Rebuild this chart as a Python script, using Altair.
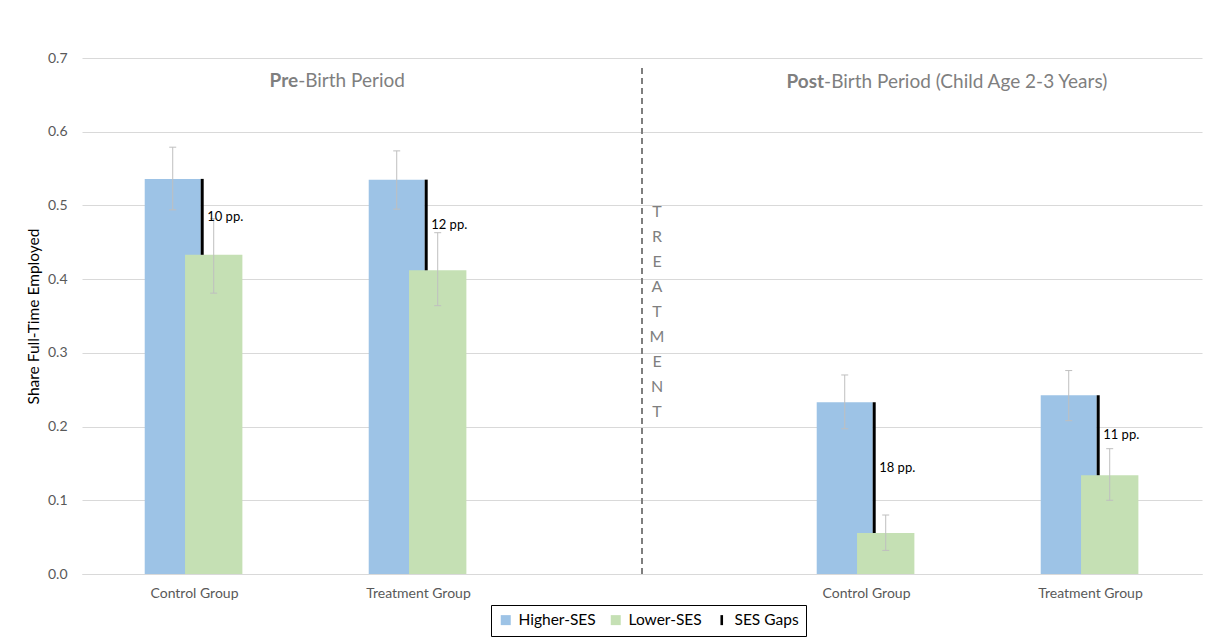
import altair as alt
import pandas as pd

# ---------------- data ----------------
slots = [1, 2, 4, 5]
group_labels = ["Control Group", "Treatment Group", "Control Group", "Treatment Group"]
higher = [0.536, 0.535, 0.233, 0.2425]
higher_lo = [0.494, 0.495, 0.197, 0.208]
higher_hi = [0.579, 0.574, 0.270, 0.276]
lower = [0.433, 0.412, 0.0556, 0.134]
lower_lo = [0.381, 0.364, 0.032, 0.100]
lower_hi = [0.482, 0.463, 0.080, 0.170]
gap_labels = ["10 pp.", "12 pp.", "18 pp.", "11 pp."]
treatment_slot = [3]
treatment_text = ["TREATMENT"]
period_bold = ["Pre", "Post"]
period_rest = ["-Birth Period", "-Birth Period (Child Age 2-3 Years)"]
legend_series = ["Higher-SES", "Lower-SES", "SES Gaps"]
y_ticks = [0.0, 0.1, 0.2, 0.3, 0.4, 0.5, 0.6, 0.7]

# ---------------- style ----------------
FONT = "Lato"
BLUE = "#9dc3e6"
GREEN = "#c5e0b4"
GRID = "#d9d9d9"
ERR = "#bfbfbf"
GREYTXT = "#7f7f7f"
BAR_PATH = "M-0.26,-1L0.26,-1L0.26,1L-0.26,1Z"

df = pd.DataFrame({
    "slot": slots, "group": group_labels,
    "higher": higher, "higher_lo": higher_lo, "higher_hi": higher_hi,
    "lower": lower, "lower_lo": lower_lo, "lower_hi": lower_hi,
    "gap": gap_labels,
})

label_expr = " : ".join(
    [f"datum.value == {s} ? '{g}'" for s, g in zip(slots, group_labels)]
) + " : ''"

xs = alt.Scale(domain=[0.5, 5.5], nice=False, zero=False)
ys = alt.Scale(domain=[0, 0.7], nice=False)
xaxis = alt.Axis(values=slots, labelExpr=label_expr, grid=False, ticks=False,
                 domain=True, domainColor=GRID, labelPadding=12, labelFontSize=14,
                 labelColor="#595959", labelFont=FONT, title=None)
yaxis = alt.Axis(values=y_ticks, format=".1f", grid=True, gridColor=GRID, ticks=False,
                 domain=False, labelPadding=15, labelFontSize=14, labelColor="#595959",
                 labelFont=FONT, title="Share Full-Time Employed", titleFont=FONT,
                 titleFontSize=15.5, titleFontWeight="normal", titleColor="#000",
                 titlePadding=6)


def X(f):
    return alt.X(f, type="quantitative", scale=xs, axis=xaxis)


def Y(f):
    return alt.Y(f, type="quantitative", scale=ys, axis=yaxis)


CAP = 0.0156
base = alt.Chart(df).transform_calculate(
    bx="datum.slot - 0.220", bx2="datum.slot + 0.030",
    gx="datum.slot - 0.040", gx2="datum.slot + 0.216",
    bc="datum.slot - 0.095", gc="datum.slot + 0.088",
    lx="datum.slot + 0.0366",
    mid="(datum.higher + datum.lower) / 2",
)

# legend (hidden points, clipped away; legend only)
leg_df = pd.DataFrame({"series": legend_series, "slot": [1, 1, 1], "v": [-1, -1, -1]})
leg = alt.Legend(title=None, orient="none", legendX=409, legendY=547, direction="horizontal",
                 strokeColor="#000", fillColor="#fff", padding=7, labelFont=FONT,
                 labelFontSize=15.5, labelColor="#000", symbolSize=100, labelOffset=5,
                 columnPadding=12, symbolStrokeWidth=0)
legend_layer = alt.Chart(leg_df).mark_point(filled=True, size=100, opacity=1, clip=True).encode(
    x=X("slot"), y=Y("v"),
    color=alt.Color("series:N", scale=alt.Scale(domain=legend_series, range=[BLUE, GREEN, "#000"]), legend=leg),
    shape=alt.Shape("series:N", scale=alt.Scale(domain=legend_series, range=["square", "square", BAR_PATH]), legend=leg),
)

blue_bars = base.mark_bar(color=BLUE).encode(x=X("bx"), x2="bx2", y=Y("higher"), y2=alt.datum(0))
green_bars = base.mark_bar(color=GREEN).encode(x=X("gx"), x2="gx2", y=Y("lower"), y2=alt.datum(0))

err_b = base.mark_rule(color=ERR, strokeWidth=1).encode(x=X("bc"), y=Y("higher_lo"), y2="higher_hi")
err_g = base.mark_rule(color=ERR, strokeWidth=1).encode(x=X("gc"), y=Y("lower_lo"), y2="lower_hi")
caps = []
for c, f in [("bc", "higher_lo"), ("bc", "higher_hi"), ("gc", "lower_lo"), ("gc", "lower_hi")]:
    caps.append(
        base.transform_calculate(c1=f"datum.{c} - {CAP}", c2=f"datum.{c} + {CAP}")
        .mark_rule(color=ERR, strokeWidth=1).encode(x=X("c1"), x2="c2", y=Y(f))
    )

gap_rule = base.mark_rule(color="#000", strokeWidth=3).encode(x=X("lx"), y=Y("higher"), y2="lower")
gap_text = base.mark_text(align="left", baseline="middle", dx=5, font=FONT, fontSize=13, color="#000").encode(
    x=X("lx"), y=Y("mid"), text="gap:N")

tdf = pd.DataFrame({"slot": treatment_slot, "txt": ["\n".join(t) for t in treatment_text]})
divider = alt.Chart(tdf).mark_rule(color=GREYTXT, strokeWidth=2, strokeDash=[6, 4]).encode(
    x=X("slot"), y=alt.datum(0), y2=alt.datum(0.69))
treat_text = alt.Chart(tdf).mark_text(align="center", baseline="top", dx=15, font=FONT, fontSize=16,
                                      color=GREYTXT, lineBreak="\n", lineHeight=25).encode(
    x=X("slot"), y=alt.datum(0.502), text="txt:N")

pdf = pd.DataFrame({"bold": period_bold, "rest": period_rest, "px": [1.465, 3.813], "py": [0.669, 0.667]})
pt_bold = alt.Chart(pdf).mark_text(align="right", baseline="middle", font=FONT, fontSize=19,
                                   fontWeight="bold", color=GREYTXT).encode(x=X("px"), y=Y("py"), text="bold:N")
pt_rest = alt.Chart(pdf).mark_text(align="left", baseline="middle", font=FONT, fontSize=19,
                                   color=GREYTXT).encode(x=X("px"), y=Y("py"), text="rest:N")

chart = alt.layer(
    legend_layer, blue_bars, green_bars, err_b, err_g, *caps, gap_rule, gap_text,
    divider, treat_text, pt_bold, pt_rest,
).properties(
    width=1120, height=516,
    padding={"left": 18, "top": 43, "right": 4, "bottom": 5},
).configure(font=FONT).configure_view(stroke=None)

chart.save("out.html", embed_options={"renderer": "svg", "actions": False})
